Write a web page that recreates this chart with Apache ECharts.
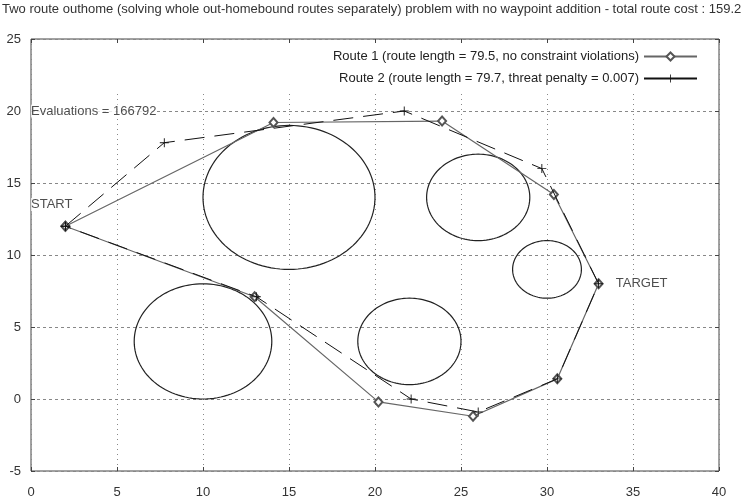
<!DOCTYPE html>
<html>
<head>
<meta charset="utf-8">
<script src="https://cdn.jsdelivr.net/npm/echarts@6/dist/echarts.min.js"></script>
<style>html,body{margin:0;padding:0;background:#fff;}#c{width:747px;height:502px;}</style>
</head>
<body>
<div id="c"></div>
<script>
// ---- data ----
var titleText = 'Two route outhome (solving whole out-homebound routes separately) problem with no waypoint addition - total route cost : 159.2';
var route1Name = 'Route 1 (route length = 79.5, no constraint violations)';
var route2Name = 'Route 2 (route length = 79.7, threat penalty = 0.007)';
var route1X = [2, 14.1, 23.9, 30.4, 33.0, 30.6, 25.7, 20.2, 13.0, 2];
var route1Y = [12, 19.2, 19.3, 14.2, 8.0, 1.4, -1.2, -0.2, 7.1, 12];
var route2X = [2, 7.75, 21.7, 29.7, 33.0, 30.6, 26.0, 22.1, 13.1, 2];
var route2Y = [12, 17.8, 20.0, 16.0, 8.0, 1.4, -0.9, 0.0, 7.1, 12];
// threats: centre x, centre y, radius
var threatX = [15, 26, 30, 22, 10];
var threatY = [14, 14, 9, 4, 4];
var threatR = [5, 3, 2, 3, 4];
// annotations: x, y, text
var noteX = [0, 34.0, 0];
var noteY = [13.5, 8.0, 20];
var noteText = ['START', 'TARGET', 'Evaluations = 166792'];
var xTicks = [0, 5, 10, 15, 20, 25, 30, 35, 40];
var yTicks = [-5, 0, 5, 10, 15, 20, 25];

function zip(a, b) { return a.map(function (v, i) { return [v, b[i]]; }); }

var FONT = 'Liberation Sans';
var chart = echarts.init(document.getElementById('c'), null, { renderer: 'canvas' });

var plusPath = 'path://M4.5,0h1v10h-1z M0,4.5h10v1h-10z';

var axisCommon = {
  type: 'value',
  axisLine: { show: false, onZero: false },
  axisTick: { show: true, inside: true, length: 4, lineStyle: { color: '#444' } },
  axisLabel: { fontFamily: FONT, fontSize: 13, color: '#333' }
};

var option = {
  animation: false,
  backgroundColor: '#fff',
  title: {
    text: titleText, left: 2, top: 3, padding: 0,
    textStyle: { fontFamily: FONT, fontSize: 13, fontWeight: 'normal', color: '#333' }
  },
  grid: { left: 31, right: 28, top: 39, bottom: 31, show: true, borderColor: '#444', borderWidth: 1, backgroundColor: 'transparent' },
  legend: [
    {
      right: 49, top: 50, padding: 0, align: 'right', itemWidth: 53, itemHeight: 10, itemGap: 0,
      textStyle: { fontFamily: FONT, fontSize: 13, color: '#222' },
      data: [{ name: route1Name, lineStyle: { type: 'solid' } }]
    },
    {
      right: 49, top: 72, padding: 0, align: 'right', itemWidth: 53, itemHeight: 10, itemGap: 0,
      textStyle: { fontFamily: FONT, fontSize: 13, color: '#222' },
      data: [{ name: route2Name, lineStyle: { type: 'solid' } }]
    }
  ],
  xAxis: [
    Object.assign({}, axisCommon, {
      min: xTicks[0], max: xTicks[xTicks.length - 1], interval: 5, position: 'bottom',
      axisLabel: Object.assign({}, axisCommon.axisLabel, { margin: 15 }),
      splitLine: { show: true, lineStyle: { color: '#888', type: [1, 4], width: 1 } }
    }),
    Object.assign({}, axisCommon, {
      min: xTicks[0], max: xTicks[xTicks.length - 1], interval: 5, position: 'top', z: 5,
      axisLabel: { show: false }, splitLine: { show: false }
    })
  ],
  yAxis: [
    Object.assign({}, axisCommon, {
      min: yTicks[0], max: yTicks[yTicks.length - 1], interval: 5, position: 'left',
      axisLabel: Object.assign({}, axisCommon.axisLabel, { margin: 10 }),
      splitLine: { show: true, lineStyle: { color: '#888', type: [3, 3], width: 1 } }
    }),
    Object.assign({}, axisCommon, {
      min: yTicks[0], max: yTicks[yTicks.length - 1], interval: 5, position: 'right', z: 5,
      axisLabel: { show: false }, splitLine: { show: false }
    })
  ],
  graphic: [
    { type: 'rect', z: 1, left: 32, top: 41, shape: { width: 686, height: 50 }, style: { fill: '#fff' } }
  ],
  series: [
    {
      name: 'threats', type: 'custom', xAxisIndex: 0, yAxisIndex: 0, z: 2,
      data: threatX.map(function (x, i) { return [x, threatY[i], threatR[i]]; }),
      renderItem: function (params, api) {
        var cx = api.value(0), cy = api.value(1), r = api.value(2);
        var pts = [];
        for (var k = 0; k <= 120; k++) {
          var a = k / 120 * Math.PI * 2;
          pts.push(api.coord([cx + r * Math.cos(a), cy + r * Math.sin(a)]));
        }
        return { type: 'polyline', shape: { points: pts }, style: { stroke: '#222', lineWidth: 1.2, fill: null } };
      },
      silent: true
    },
    {
      name: route1Name, type: 'line', xAxisIndex: 0, yAxisIndex: 0, z: 3,
      data: zip(route1X, route1Y),
      symbol: 'emptyDiamond', symbolSize: [8, 9], showAllSymbol: true,
      lineStyle: { color: '#666', width: 1.2 },
      itemStyle: { color: '#555', borderWidth: 1 }
    },
    {
      name: route2Name, type: 'line', xAxisIndex: 0, yAxisIndex: 0, z: 4,
      data: zip(route2X, route2Y),
      symbol: plusPath, symbolSize: 9, showAllSymbol: true,
      lineStyle: { color: '#111', width: 1, type: [20, 10] },
      itemStyle: { color: '#111' }
    },
    {
      name: 'notes', type: 'scatter', xAxisIndex: 0, yAxisIndex: 0, z: 6,
      data: noteX.map(function (x, i) { return [x, noteY[i], noteText[i]]; }),
      symbolSize: 0, silent: true,
      label: {
        show: true, position: 'right', distance: 0,
        formatter: function (p) { return p.value[2]; },
        fontFamily: FONT, fontSize: 13, color: '#222', backgroundColor: '#fff'
      }
    }
  ]
};
chart.setOption(option);
</script>
</body>
</html>
